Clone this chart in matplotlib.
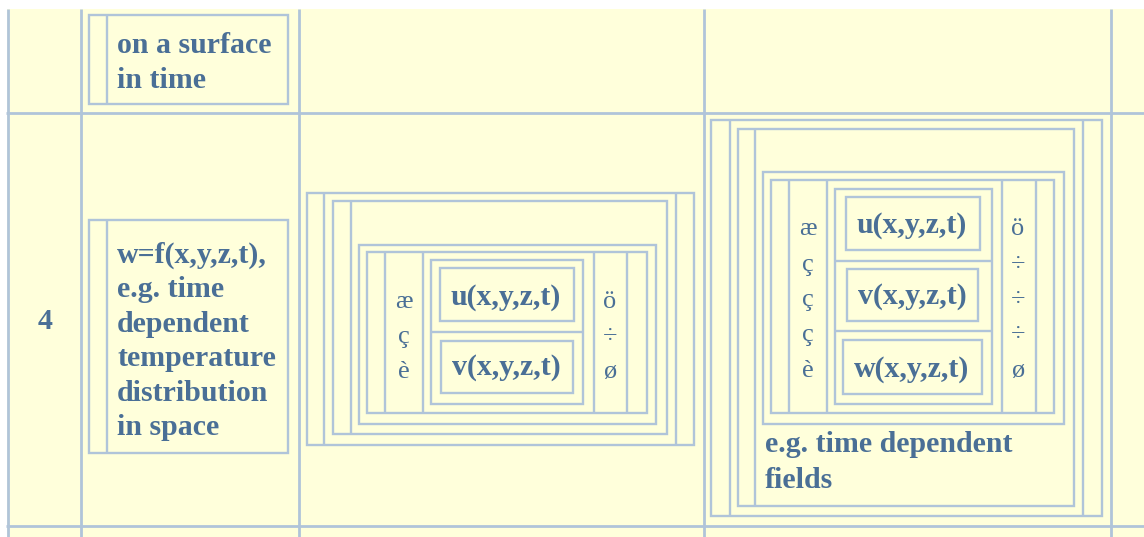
import matplotlib
matplotlib.use("Agg")
import matplotlib.pyplot as plt
from matplotlib.patches import Rectangle

# ---- content ----
row_label = "4"
top_cell_lines = ["on a surface", "in time"]
desc_lines = ["w=f(x,y,z,t),", "e.g. time", "dependent", "temperature", "distribution", "in space"]
vec2_entries = ["u(x,y,z,t)", "v(x,y,z,t)"]
vec3_entries = ["u(x,y,z,t)", "v(x,y,z,t)", "w(x,y,z,t)"]
left_br2 = ["æ", "ç", "è"]
right_br2 = ["ö", "÷", "ø"]
left_br3 = ["æ", "ç", "ç", "ç", "è"]
right_br3 = ["ö", "÷", "÷", "÷", "ø"]
fields_lines = ["e.g. time dependent", "fields"]

# ---- style ----
BG = "#ffffdb"
LINE = "#b0c4d9"
TXT = "#4a6f96"
FONT = "Liberation Serif"
BODY_FS = 21.5
VEC_FS = 21.5
BR_FS = 19

W, H = 1144, 537
fig = plt.figure(figsize=(W / 100, H / 100), dpi=100)
fig.patch.set_facecolor("white")
ax = fig.add_axes([0, 0, 1, 1])
ax.set_xlim(0, W)
ax.set_ylim(H, 0)
ax.axis("off")

ax.add_patch(Rectangle((7, 9), W - 7, H - 9, facecolor=BG, edgecolor="none", zorder=0))

GRID_LW = 2.0
BOX_LW = 1.7


def rect(l, t, r, b, lw=BOX_LW):
    ax.add_patch(Rectangle((l, t), r - l, b - t, fill=False, edgecolor=LINE, lw=lw, zorder=2))


def vline(x, t, b, lw=BOX_LW):
    ax.plot([x, x], [t, b], color=LINE, lw=lw, solid_capstyle="butt", zorder=2)


def hline(y, l, r, lw=BOX_LW):
    ax.plot([l, r], [y, y], color=LINE, lw=lw, solid_capstyle="butt", zorder=2)


def lines_text(x, y0, step, lines, fs=BODY_FS, weight="bold", ha="left"):
    for i, s in enumerate(lines):
        ax.text(x, y0 + i * step, s, fontsize=fs, fontweight=weight, family=FONT,
                color=TXT, ha=ha, va="baseline", zorder=3)


# ---- outer table grid ----
for x in [7.5, 81, 299, 704, 1110.5]:
    vline(x, 9, H, lw=GRID_LW)
for y in [112.5, 526]:
    hline(y, 6, W, lw=GRID_LW)

# ---- row 1, column 2 ----
rect(89, 15, 288, 104)
vline(107, 15, 104)
lines_text(117, 53, 35, top_cell_lines)

# ---- row 2, column 1 ----
ax.text(45, 329, row_label, fontsize=BODY_FS, fontweight="bold", family=FONT,
        color=TXT, ha="center", va="baseline")

# ---- row 2, column 2 ----
rect(89, 219.5, 288, 453)
vline(107, 219.5, 453)
lines_text(117, 263, 34.4, desc_lines)

# ---- row 2, column 3 : 2-vector ----
rect(307, 193, 694, 444.5)
vline(324, 193, 444.5)
vline(675.5, 193, 444.5)
rect(333, 200.5, 667, 434)
vline(351, 200.5, 434)
rect(359, 244.5, 655.5, 424)
rect(367, 252, 647, 413)
for x in [385, 423, 594, 627]:
    vline(x, 252, 413)
rect(431, 260, 583, 404)
hline(332, 431, 583)
rect(439.5, 268, 574, 321)
rect(441, 340.5, 573, 393)
for i, s in enumerate(vec2_entries):
    ax.text(506, [305, 375][i], s, fontsize=VEC_FS, fontweight="bold", family=FONT,
            color=TXT, ha="center", va="baseline", zorder=3)
lines_text(404, 308, 35, left_br2, fs=BR_FS, weight="normal", ha="center")
lines_text(610, 308, 35, right_br2, fs=BR_FS, weight="normal", ha="center")

# ---- row 2, column 4 : 3-vector ----
rect(711, 120, 1102, 516)
vline(730, 120, 516)
vline(1083, 120, 516)
rect(738, 128.5, 1074, 505.5)
vline(755, 128.5, 505.5)
rect(763, 172, 1063.5, 423.5)
rect(771, 180, 1054, 413)
for x in [789, 827, 1002, 1035.5]:
    vline(x, 180, 413)
rect(835, 188.5, 992, 404)
hline(260.5, 835, 992)
hline(331, 835, 992)
rect(845.5, 197, 979.5, 249.5)
rect(846.5, 268.5, 978, 321)
rect(843, 340, 982, 393.5)
for i, s in enumerate(vec3_entries):
    ax.text(912, [233, 304, 377][i], s, fontsize=VEC_FS, fontweight="bold", family=FONT,
            color=TXT, ha="center", va="baseline", zorder=3)
lines_text(808, 235, 35.5, left_br3, fs=BR_FS, weight="normal", ha="center")
lines_text(1018, 235, 35.5, right_br3, fs=BR_FS, weight="normal", ha="center")
lines_text(765, 452, 36, fields_lines)

fig.savefig("out.png", dpi=100, facecolor="white")
